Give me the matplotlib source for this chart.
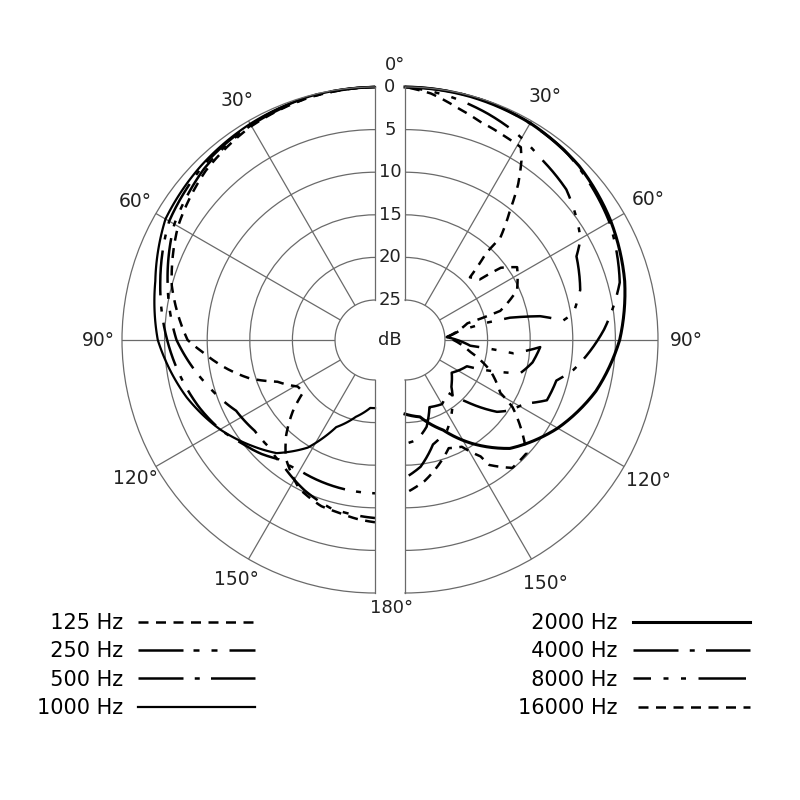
import matplotlib
matplotlib.use("Agg")
import matplotlib.pyplot as plt
import numpy as np
from matplotlib.transforms import offset_copy

plt.rcParams["font.family"] = ["DejaVu Sans"]

# angle (deg from front) and attenuation (dB)
# left half: low frequencies
ang_125 = [0, 15, 30, 45, 60, 75, 90, 94, 101, 107, 113, 121, 126, 131, 137, 143, 153, 162, 168, 174, 180]
att_125 = [0, 0.2, 0.7, 1.6, 3.0, 5.0, 7.7, 9.4, 12.0, 14.3, 17.2, 19.1, 19.3, 16.9, 14.4, 12.3, 10.1, 9.2, 9.0, 8.6, 8.3]

ang_250 = [0, 15, 30, 45, 60, 75, 90, 105, 117, 127, 135, 145, 155, 165, 180]
att_250 = [0, 0.2, 0.6, 1.3, 2.5, 4.5, 6.4, 9.3, 11.4, 12.0, 12.0, 11.3, 10.2, 9.3, 8.8]

ang_500 = [0, 15, 30, 45, 60, 75, 90, 100, 111, 120, 127, 135, 141, 150, 160, 170, 180]
att_500 = [0, 0.1, 0.5, 1.0, 1.8, 3.6, 5.3, 6.4, 7.6, 8.7, 9.8, 10.8, 11.7, 12.0, 11.9, 11.8, 11.7]

ang_1000 = [0, 15, 30, 45, 60, 75, 90, 107, 120, 131, 139, 148, 156, 166, 176, 180]
att_1000 = [0, 0.1, 0.4, 0.8, 1.3, 3.0, 4.2, 6.6, 8.7, 10.7, 12.1, 14.8, 18.5, 20.4, 21.7, 21.7]

# right half: high frequencies
ang_2000 = [0, 15, 30, 45, 60, 75, 90, 105, 120, 136, 147, 157, 169, 180]
att_2000 = [0, 0.1, 0.3, 0.8, 1.8, 3.0, 4.5, 6.5, 9.0, 12.0, 15.2, 18.2, 20.5, 21.0]

ang_4000 = [0, 20, 40, 60, 75, 87, 100, 105, 113, 118, 124, 128, 135, 141, 150, 160, 166, 173, 180]
att_4000 = [0, 0.1, 0.6, 2.0, 3.6, 6.3, 9.6, 11.3, 11.6, 13.8, 14.9, 16.0, 19.4, 21.8, 21.0, 21.3, 19.2, 17.9, 17.5]

ang_8000 = [0, 10, 20, 28, 37, 47, 54, 60, 64, 74, 81, 83, 80, 78, 78, 80, 86, 95, 97, 93,
            100, 106, 113, 125, 135, 145, 155, 165, 173, 180]
att_8000 = [0, 0.6, 1.4, 2.1, 3.1, 3.8, 4.9, 5.9, 7.3, 8.3, 9.7, 11.0, 13.6, 17.1, 20.3, 23.1, 24.8, 22.0, 16.9, 13.8,
            14.5, 15.6, 21.8, 23.0, 22.0, 20.0, 18.0, 17.0, 14.7, 13.5]

ang_16000 = [0, 6, 13, 19, 25, 31, 33, 36, 39, 43, 43, 46, 51, 53, 57, 66, 73, 75, 86, 100,
             110, 119, 122, 133, 140, 146, 147, 152, 158, 165, 172, 180]
att_16000 = [0, 0.6, 1.8, 2.6, 3.0, 3.3, 4.6, 7.1, 10.1, 13.3, 15.7, 19.1, 18.4, 15.6, 14.0, 15.3, 18.0, 22.1, 24.8, 22.0,
             19.0, 16.9, 14.8, 10.2, 10.1, 12.0, 13.4, 15.5, 16.0, 14.5, 13.0, 11.7]

labels_left = ["125 Hz", "250 Hz", "500 Hz", "1000 Hz"]
labels_right = ["2000 Hz", "4000 Hz", "8000 Hz", "16000 Hz"]

ring_db = [0, 5, 10, 15, 20, 25]
angle_ticks = [30, 60, 90, 120, 150]
angle_labels = ["30°", "60°", "90°", "120°", "150°"]

DB_MAX = 25
ROFF = -4.69
GRID = "#6a6a6a"
TXT = "#222222"

fig = plt.figure(figsize=(8, 8), dpi=100)
axL = fig.add_axes([-4.5 / 800, 207 / 800, 506 / 800, 506 / 800], projection="polar")
axR = fig.add_axes([278.5 / 800, 207 / 800, 506 / 800, 506 / 800], projection="polar")


def setup_half(ax, direction, lab_off):
    ax.set_theta_zero_location("N")
    ax.set_theta_direction(direction)
    ax.set_thetamin(0)
    ax.set_thetamax(180)
    ax.set_rlim(0, DB_MAX)
    ax.set_rorigin(ROFF)
    ax.set_rticks([DB_MAX - d for d in ring_db[1:-1]])
    ax.set_yticklabels([])
    ax.set_thetagrids(angle_ticks, [""] * len(angle_ticks))
    ax.grid(True, color=GRID, lw=0.9)
    for s in ax.spines.values():
        s.set_color(GRID)
        s.set_linewidth(0.9)
    ax.set_facecolor("none")
    for a, lab in zip(angle_ticks, angle_labels):
        ax.text(np.deg2rad(a), DB_MAX + lab_off, lab, ha="center", va="center",
                fontsize=13.5, color=TXT)


setup_half(axL, 1, 2.8)
setup_half(axR, -1, 3.3)


def curve(ax, ang, att, label, ls, lw=1.8):
    line, = ax.plot(np.deg2rad(ang), DB_MAX - np.asarray(att), color="black",
                    lw=lw, ls=ls, label=label, clip_on=False)
    # let the polar transform draw each step as a spiral arc, not a chord
    line.get_path()._interpolation_steps = 40
    return line


linesL = [
    curve(axL, ang_125, att_125, labels_left[0], (0, (4, 3))),
    curve(axL, ang_250, att_250, labels_left[1], (0, (18, 4, 2.4, 4.8, 2.4, 4.8))),
    curve(axL, ang_500, att_500, labels_left[2], (0, (18, 4.5, 2, 4.5))),
    curve(axL, ang_1000, att_1000, labels_left[3], "-", 1.6),
]
linesR = [
    curve(axR, ang_2000, att_2000, labels_right[0], "-", 2.2),
    curve(axR, ang_4000, att_4000, labels_right[1], (0, (18, 4.5, 2, 4.5))),
    curve(axR, ang_8000, att_8000, labels_right[2], (12, (19, 5, 2, 5, 2, 5))),
    curve(axR, ang_16000, att_16000, labels_right[3], (5, (4, 3))),
]

# dB scale between the two halves
tr = offset_copy(axL.transData, fig=fig, x=15, y=0, units="dots")
for d in ring_db:
    axL.text(0, DB_MAX - d, str(d), transform=tr, ha="center", va="center",
             fontsize=13, color=TXT)
axL.text(0, ROFF, "dB", transform=tr, ha="center", va="center", fontsize=13, color=TXT)
axL.text(0, DB_MAX, "0°", transform=offset_copy(axL.transData, fig=fig, x=20, y=22, units="dots"),
         ha="center", va="center", fontsize=13, color=TXT)
axL.text(np.pi, DB_MAX, "180°", transform=offset_copy(axL.transData, fig=fig, x=17, y=-15, units="dots"),
         ha="center", va="center", fontsize=13, color=TXT)


def pad_labels(labels):
    w = max(len(s) for s in labels)
    return [s.rjust(w, "\u2007") for s in labels]


leg_kw = dict(loc="upper right", frameon=False, markerfirst=False, handlelength=5.6,
              handletextpad=0.75, labelspacing=0.4, fontsize=15, borderpad=0, borderaxespad=0)
fig.legend(linesL, pad_labels(labels_left), bbox_to_anchor=(255 / 800, 187 / 800), **leg_kw)
fig.legend(linesR, pad_labels(labels_right), bbox_to_anchor=(750 / 800, 187 / 800), **leg_kw)

fig.savefig("out.png", dpi=100, facecolor="white")
